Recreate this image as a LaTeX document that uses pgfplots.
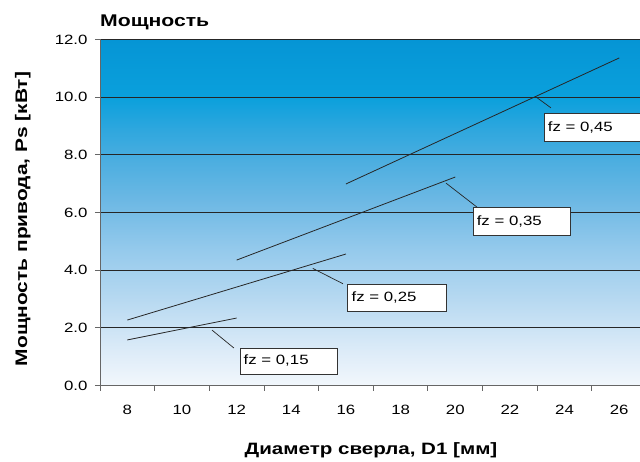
\documentclass[border=0pt]{standalone}
\usepackage{fontspec}
\setmainfont{Liberation Sans}[FakeStretch=1.25]
\usepackage{pgfplots}
\pgfplotsset{compat=1.18}
\pgfdeclareverticalshading{bgshade}{100bp}{%
rgb(0bp)=(0.949,0.969,0.988);
rgb(25bp)=(0.949,0.969,0.988);
rgb(30.1bp)=(0.863,0.922,0.973);
rgb(37.4bp)=(0.718,0.851,0.945);
rgb(44.6bp)=(0.584,0.792,0.925);
rgb(51.8bp)=(0.424,0.722,0.894);
rgb(57.6bp)=(0.294,0.682,0.878);
rgb(61.9bp)=(0.184,0.655,0.871);
rgb(66.7bp)=(0.040,0.627,0.863);
rgb(75bp)=(0.020,0.584,0.835);
rgb(100bp)=(0.020,0.584,0.835)}
\begin{document}
\begin{tikzpicture}
\begin{axis}[
  at={(100bp,76.5bp)}, anchor=south west,
  scale only axis, width=540bp, height=346bp,
  xmin=7, xmax=26.76, ymin=0, ymax=12,
  axis x line=bottom, axis y line=left,
  axis line style={-, draw=black!60, line width=0.9bp},
  xtick={7,9,...,25},
  xticklabel={\pgfmathparse{int(\tick+1)}\pgfmathresult},
  xticklabel style={xshift=27.33bp, yshift=-11bp, font=\fontsize{13.5}{15}\selectfont},
  ytick={0,2,...,12},
  yticklabel style={xshift=-4bp, font=\fontsize{13.5}{15}\selectfont,
    /pgf/number format/.cd, fixed, fixed zerofill, precision=1, assume math mode=true},
  tick align=outside, major tick length=5bp,
  tick style={draw=black!60, line width=0.9bp},
  ymajorgrids, grid style={draw=black!85, line width=0.8bp},
  axis background/.style={shading=bgshade},
  clip=false,
]
% data lines
\addplot[black!85, line width=0.8bp] coordinates {(8,1.58) (12,2.34)};
\addplot[black!85, line width=0.8bp] coordinates {(8,2.27) (16,4.56)};
\addplot[black!85, line width=0.8bp] coordinates {(12,4.35) (20,7.23)};
\addplot[black!85, line width=0.8bp] coordinates {(16,6.99) (26,11.36)};
% leaders
\draw[black!85, line width=0.7bp] (axis cs:11.10,1.92) -- (axis cs:11.90,1.30);
\draw[black!85, line width=0.7bp] (axis cs:14.79,4.06) -- (axis cs:15.89,3.53);
\draw[black!85, line width=0.7bp] (axis cs:19.66,7.02) -- (axis cs:20.79,6.19);
\draw[black!85, line width=0.7bp] (axis cs:22.95,10.01) -- (axis cs:23.50,9.63);
% boxes
\draw[fill=white, draw=black!80, line width=0.8bp] (axis cs:12.12,0.40) rectangle (axis cs:15.67,1.30);
\node[anchor=west, inner sep=0pt, font=\fontsize{13.5}{16}\selectfont] at (axis cs:12.25,0.85) {fz = 0,15};
\draw[fill=white, draw=black!80, line width=0.8bp] (axis cs:16.07,2.58) rectangle (axis cs:19.66,3.52);
\node[anchor=west, inner sep=0pt, font=\fontsize{13.5}{16}\selectfont] at (axis cs:16.20,3.05) {fz = 0,25};
\draw[fill=white, draw=black!80, line width=0.8bp] (axis cs:20.65,5.22) rectangle (axis cs:24.20,6.16);
\node[anchor=west, inner sep=0pt, font=\fontsize{13.5}{16}\selectfont] at (axis cs:20.78,5.69) {fz = 0,35};
\draw[fill=white, draw=black!80, line width=0.8bp] (axis cs:23.25,8.48) rectangle (axis cs:26.94,9.42);
\node[anchor=west, inner sep=0pt, font=\fontsize{13.5}{16}\selectfont] at (axis cs:23.38,8.95) {fz = 0,45};
\end{axis}
\node[anchor=base west, inner sep=0pt, font=\fontsize{17}{20}\selectfont\bfseries] at (100bp,435bp) {Мощность};
\node[anchor=base, inner sep=0pt, font=\fontsize{16.5}{19}\selectfont\bfseries] at (371bp,8bp) {Диаметр сверла, D1 [мм]};
\node[anchor=base, rotate=90, inner sep=0pt, font=\fontsize{16.8}{19}\selectfont\bfseries] at (27bp,243bp) {Мощность привода, Ps [кВт]};
\pgfresetboundingbox
\useasboundingbox (0,0) rectangle (640bp,462bp);
\end{tikzpicture}
\end{document}
